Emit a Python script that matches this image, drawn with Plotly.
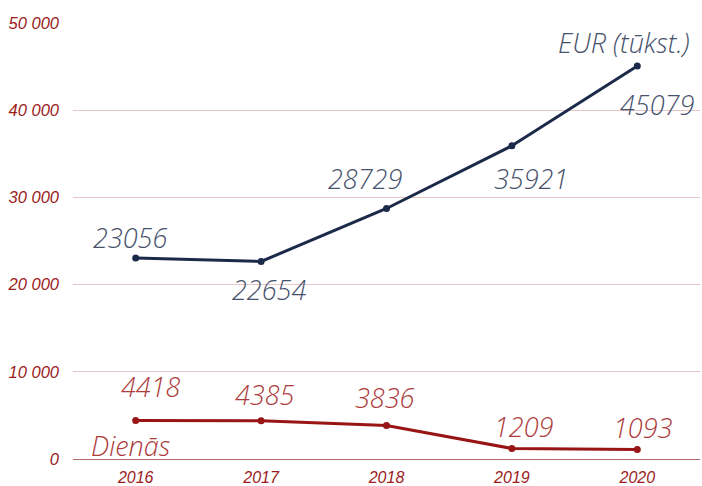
import plotly.graph_objects as go

years = ["2016", "2017", "2018", "2019", "2020"]
eur = [23056, 22654, 28729, 35921, 45079]
dienas = [4418, 4385, 3836, 1209, 1093]
y_ticks = [0, 10000, 20000, 30000, 40000, 50000]
y_tick_text = ["0", "10 000", "20 000", "30 000", "40 000", "50 000"]

EUR_LINE = "#1c2a4a"
EUR_TEXT = "#46516c"
DIE_LINE = "#991414"
DIE_TEXT = "#ad3b3b"
TICK = "#9b1c1c"

fig = go.Figure()
fig.add_trace(go.Scatter(x=years, y=eur, mode="lines+markers", name="EUR (tūkst.)",
                         line=dict(color=EUR_LINE, width=3), marker=dict(size=7, color=EUR_LINE)))
fig.add_trace(go.Scatter(x=years, y=dienas, mode="lines+markers", name="Dienās",
                         line=dict(color=DIE_LINE, width=3), marker=dict(size=7, color=DIE_LINE)))

label_font = dict(family="Open Sans", size=27, style="italic", weight=300)

eur_shift = [(-6, 20), (8, -28), (-22, 30), (19, -33), (20, -39)]
die_shift = [(15, 34), (4, 26), (-2, 28), (12, 22), (6, 22)]

for i, (v, (dx, dy)) in enumerate(zip(eur, eur_shift)):
    fig.add_annotation(x=i, y=v, text=str(v), showarrow=False, xshift=dx, yshift=dy,
                       xanchor="center", yanchor="middle",
                       font=dict(color=EUR_TEXT, **label_font))
for i, (v, (dx, dy)) in enumerate(zip(dienas, die_shift)):
    fig.add_annotation(x=i, y=v, text=str(v), showarrow=False, xshift=dx, yshift=dy,
                       xanchor="center", yanchor="middle",
                       font=dict(color=DIE_TEXT, **label_font))

fig.add_annotation(xref="paper", yref="paper", x=(624 - 73) / 627, y=(459 - 43) / 436,
                   xanchor="center", yanchor="middle",
                   text="EUR (tūkst.)", showarrow=False, font=dict(color=EUR_TEXT, **label_font))
fig.add_annotation(xref="paper", yref="paper", x=(130 - 73) / 627, y=(459 - 445) / 436,
                   xanchor="center", yanchor="middle",
                   text="Dienās", showarrow=False, font=dict(color=DIE_TEXT, **label_font))

fig.update_layout(
    width=702, height=486,
    margin=dict(l=73, r=2, t=23, b=27, autoexpand=False),
    paper_bgcolor="white", plot_bgcolor="white",
    showlegend=False,
    xaxis=dict(type="category", range=[-0.5, 4.5], showgrid=False, showline=False,
               zeroline=False, ticks="", automargin=False, ticklabelstandoff=7,
               tickfont=dict(family="Liberation Sans", size=16, color=TICK, style="italic")),
    yaxis=dict(range=[0, 50000], tickvals=y_ticks, ticktext=y_tick_text,
               showgrid=True, gridcolor="#e9c6c6", gridwidth=1,
               zeroline=True, zerolinecolor="#b06a6a", zerolinewidth=1,
               showline=False, ticks="", ticklabelstandoff=13, automargin=False,
               tickfont=dict(family="Liberation Sans", size=16.5, color=TICK, style="italic")),
)

fig.write_html("out.html", config={"displayModeBar": False},
               post_script="document.body.style.margin='0';")
